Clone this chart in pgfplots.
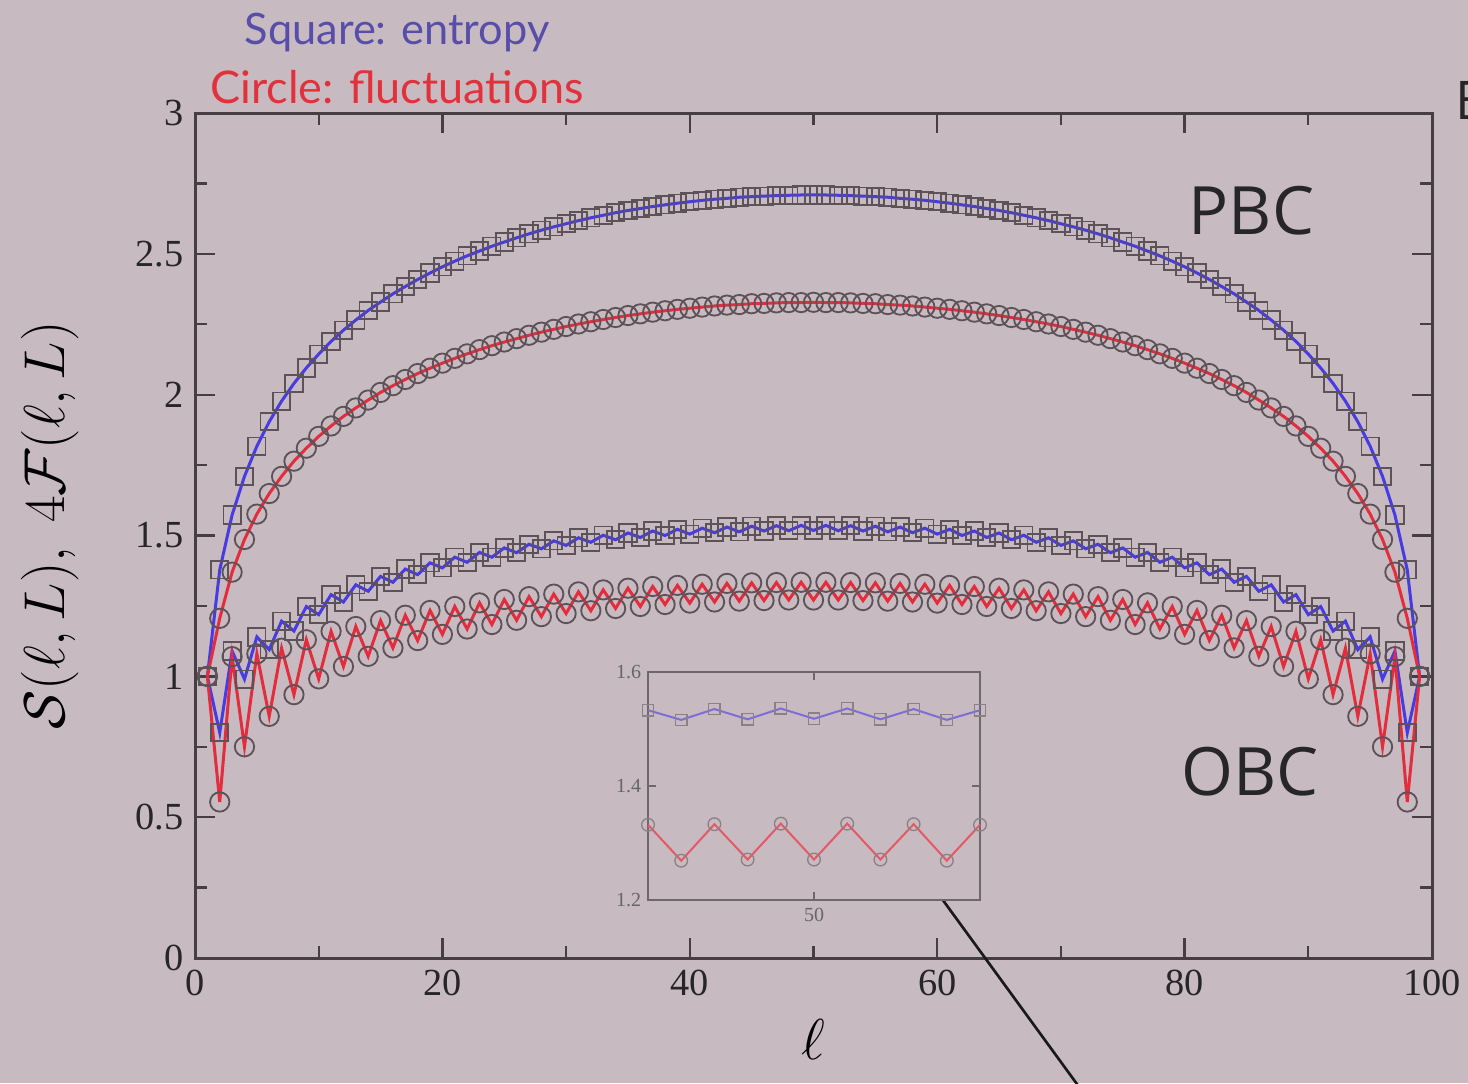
\documentclass[border=0pt]{standalone}
\usepackage{pgfplots}
\pgfplotsset{compat=1.18}
\usepackage{pgfplotstable}
\usepackage{fontspec}
\setmainfont{Liberation Serif}
\newfontfamily\gill{Lato}
\newfontfamily\osans{Open Sans}

\definecolor{bg}{RGB}{199,186,193}
\definecolor{bl}{RGB}{70,60,225}
\definecolor{rd}{RGB}{228,45,60}
\definecolor{mk}{RGB}{92,82,88}
\definecolor{ax}{RGB}{70,62,66}
\definecolor{ttlb}{RGB}{88,78,170}
\definecolor{ttlr}{RGB}{225,50,60}
\definecolor{inbl}{RGB}{125,110,215}
\definecolor{inrd}{RGB}{228,90,100}
\definecolor{inmk}{RGB}{140,128,135}

% l, PBC entropy, PBC 4F, OBC entropy, OBC 4F
\pgfplotstableread{
l pS pF oS oF
1 1.000 1.000 1.000 1.000
2 1.378 1.206 0.800 0.554
3 1.573 1.370 1.090 1.070
4 1.710 1.486 0.990 0.750
5 1.817 1.576 1.140 1.080
6 1.904 1.649 1.095 0.858
7 1.977 1.710 1.196 1.100
8 2.040 1.764 1.161 0.935
9 2.095 1.810 1.248 1.130
10 2.144 1.852 1.219 0.991
11 2.189 1.889 1.290 1.160
12 2.229 1.923 1.264 1.035
13 2.265 1.953 1.325 1.177
14 2.299 1.981 1.302 1.071
15 2.329 2.008 1.355 1.198
16 2.358 2.032 1.334 1.101
17 2.384 2.054 1.381 1.217
18 2.409 2.075 1.361 1.127
19 2.432 2.094 1.403 1.234
20 2.454 2.112 1.385 1.149
21 2.474 2.129 1.423 1.248
22 2.493 2.145 1.405 1.168
23 2.510 2.160 1.440 1.261
24 2.527 2.174 1.423 1.184
25 2.542 2.187 1.456 1.273
26 2.557 2.199 1.439 1.199
27 2.571 2.211 1.469 1.283
28 2.584 2.222 1.453 1.212
29 2.596 2.232 1.481 1.292
30 2.607 2.242 1.465 1.223
31 2.618 2.251 1.492 1.300
32 2.628 2.259 1.476 1.233
33 2.637 2.267 1.501 1.307
34 2.646 2.274 1.485 1.241
35 2.654 2.281 1.509 1.313
36 2.661 2.287 1.493 1.248
37 2.668 2.293 1.516 1.319
38 2.674 2.298 1.500 1.255
39 2.680 2.303 1.522 1.323
40 2.685 2.307 1.505 1.260
41 2.690 2.311 1.526 1.327
42 2.694 2.315 1.510 1.264
43 2.697 2.318 1.530 1.330
44 2.701 2.320 1.513 1.267
45 2.703 2.323 1.533 1.332
46 2.705 2.324 1.516 1.269
47 2.707 2.326 1.535 1.333
48 2.708 2.327 1.517 1.271
49 2.709 2.327 1.536 1.334
50 2.709 2.328 1.518 1.271
51 2.709 2.327 1.536 1.334
52 2.708 2.327 1.517 1.271
53 2.707 2.326 1.535 1.333
54 2.705 2.324 1.516 1.269
55 2.703 2.323 1.533 1.332
56 2.701 2.320 1.513 1.267
57 2.697 2.318 1.530 1.330
58 2.694 2.315 1.510 1.264
59 2.690 2.311 1.526 1.327
60 2.685 2.307 1.505 1.260
61 2.680 2.303 1.522 1.323
62 2.674 2.298 1.500 1.255
63 2.668 2.293 1.516 1.319
64 2.661 2.287 1.493 1.248
65 2.654 2.281 1.509 1.313
66 2.646 2.274 1.485 1.241
67 2.637 2.267 1.501 1.307
68 2.628 2.259 1.476 1.233
69 2.618 2.251 1.492 1.300
70 2.607 2.242 1.465 1.223
71 2.596 2.232 1.481 1.292
72 2.584 2.222 1.453 1.212
73 2.571 2.211 1.469 1.283
74 2.557 2.199 1.439 1.199
75 2.542 2.187 1.456 1.273
76 2.527 2.174 1.423 1.184
77 2.510 2.160 1.440 1.261
78 2.493 2.145 1.405 1.168
79 2.474 2.129 1.423 1.248
80 2.454 2.112 1.385 1.149
81 2.432 2.094 1.403 1.234
82 2.409 2.075 1.361 1.127
83 2.384 2.054 1.381 1.217
84 2.358 2.032 1.334 1.101
85 2.329 2.008 1.355 1.198
86 2.299 1.981 1.302 1.071
87 2.265 1.953 1.325 1.177
88 2.229 1.923 1.264 1.035
89 2.189 1.889 1.290 1.160
90 2.144 1.852 1.219 0.991
91 2.095 1.810 1.248 1.130
92 2.040 1.764 1.161 0.935
93 1.977 1.710 1.196 1.100
94 1.904 1.649 1.095 0.858
95 1.817 1.576 1.140 1.080
96 1.710 1.486 0.990 0.750
97 1.573 1.370 1.090 1.070
98 1.378 1.206 0.800 0.554
99 1.000 1.000 1.000 1.000
}\data

\begin{document}
\begin{tikzpicture}
\fill[bg] (-58.5pt,-37.5pt) rectangle (381.9pt,287.4pt);
\begin{axis}[
    at={(0,0)}, anchor=south west,
    scale only axis, width=371.1pt, height=253.5pt,
    xmin=0, xmax=100, ymin=0, ymax=3,
    xtick={0,20,...,100}, minor xtick={10,30,...,90},
    ytick={0,0.5,1,1.5,2,2.5,3}, minor ytick={0.25,0.75,...,2.75},
    tick align=inside, major tick length=6pt, minor tick length=3.5pt,
    axis line style={ax, line width=0.9pt},
    every tick/.style={ax, line width=0.7pt},
    tick label style={font=\fontsize{11.5}{13}\selectfont, text=black!85},
    /pgf/number format/assume math mode=true,
    clip=false,
]
    % gray symbols first, coloured lines on top
    \addplot[mk, only marks, mark=square, mark size=2.6pt, mark options={line width=0.55pt}] table[x=l, y=pS] {\data};
    \addplot[bl, line width=0.9pt, no marks] table[x=l, y=pS] {\data};
    \addplot[mk, only marks, mark=o, mark size=2.9pt, mark options={line width=0.55pt}] table[x=l, y=pF] {\data};
    \addplot[rd, line width=0.9pt, no marks] table[x=l, y=pF] {\data};
    \addplot[mk, only marks, mark=square, mark size=2.6pt, mark options={line width=0.55pt}] table[x=l, y=oS] {\data};
    \addplot[bl, line width=0.9pt, no marks] table[x=l, y=oS] {\data};
    \addplot[mk, only marks, mark=o, mark size=2.9pt, mark options={line width=0.55pt}] table[x=l, y=oF] {\data};
    \addplot[rd, line width=0.9pt, no marks] table[x=l, y=oF] {\data};

    \node[font=\fontsize{18}{20}\selectfont] at (rel axis cs:0.5,-0.097) {$\ell$};
    \node[rotate=90, font=\fontsize{17}{20}\selectfont] at (rel axis cs:-0.117,0.512) {$\mathcal{S}(\ell, L),\ 4\mathcal{F}(\ell, L)$};

    \node[font=\gill\fontsize{13}{15}\selectfont, text=ttlb] at (axis cs:16.33,3.287) {Square: entropy};
    \node[font=\gill\fontsize{13.5}{15}\selectfont, text=ttlr] at (axis cs:16.33,3.092) {Circle: fluctuations};
    \node[font=\osans\fontsize{20}{22}\selectfont, text=black!85] at (axis cs:85.4,2.655) {PBC};
    \node[font=\osans\fontsize{20}{22}\selectfont, text=black!85] at (axis cs:85.3,0.66) {OBC};
    \node[font=\osans\fontsize{16}{18}\selectfont, text=black!85] at (axis cs:103.3,3.046) {B};

    \draw[black!90, line width=0.8pt] (axis cs:57.4,0.39) -- (axis cs:73,-0.55);
\end{axis}

\begin{axis}[
    at={(135.9pt,17.4pt)}, anchor=south west,
    scale only axis, width=99.6pt, height=68.4pt,
    xmin=45, xmax=55, ymin=1.2, ymax=1.6,
    xtick={50}, ytick={1.2,1.4,1.6},
    tick align=inside, major tick length=2.5pt,
    axis line style={inmk!80!black, line width=0.6pt},
    every tick/.style={inmk!80!black, line width=0.5pt},
    tick label style={font=\fontsize{6}{7}\selectfont, text=black!60},
    yticklabel style={/pgf/number format/fixed, /pgf/number format/precision=1, /pgf/number format/fixed zerofill},
    /pgf/number format/assume math mode=true,
    xticklabel shift=-1pt, yticklabel shift=-1.5pt,
    axis background/.style={fill=bg},
    clip=false,
]
    \addplot[inmk, only marks, mark=square, mark size=1.7pt, mark options={line width=0.4pt}, restrict x to domain=45:55] table[x=l, y=oS] {\data};
    \addplot[inbl, line width=0.6pt, no marks, restrict x to domain=45:55] table[x=l, y=oS] {\data};
    \addplot[inmk, only marks, mark=o, mark size=1.9pt, mark options={line width=0.4pt}, restrict x to domain=45:55] table[x=l, y=oF] {\data};
    \addplot[inrd, line width=0.6pt, no marks, restrict x to domain=45:55] table[x=l, y=oF] {\data};
\end{axis}

\pgfresetboundingbox
\path[use as bounding box] (-58.5pt,-37.5pt) rectangle (381.9pt,287.4pt);
\end{tikzpicture}
\end{document}
